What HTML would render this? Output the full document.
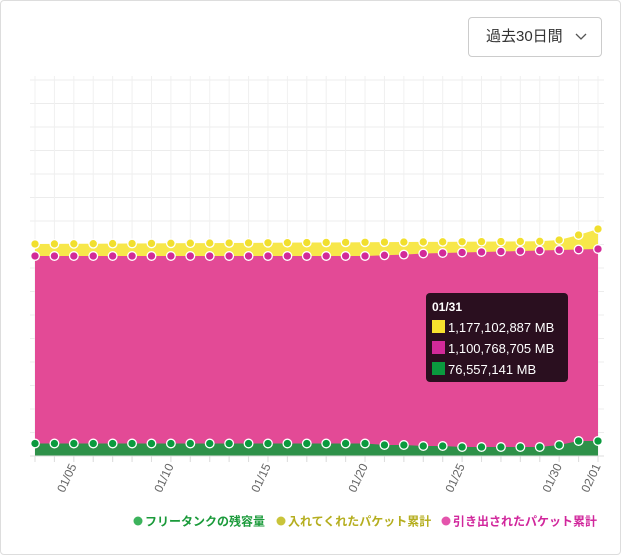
<!DOCTYPE html>
<html><head><meta charset="utf-8"><style>
body{margin:0;background:#fff;font-family:"Liberation Sans","Noto Sans CJK JP",sans-serif}
.card{position:absolute;left:0;top:0;width:619px;height:553px;border:1px solid #ddd;border-radius:4px}
.btn{position:absolute;left:468px;top:17px;width:134px;height:40px;border:1px solid #ccc;border-radius:4px;box-sizing:border-box;font-size:15px;color:#333;line-height:38px;padding-left:17px}
.btn svg{position:absolute;right:14px;top:15px}
</style></head><body>
<div class="card"></div>
<div class="btn">過去30日間<svg width="12" height="8"><path d="M1 1 L6 6 L11 1" stroke="#555" fill="none" stroke-width="1.3"/></svg></div>
<svg id="s" width="621" height="555" style="position:absolute;left:0;top:0"></svg>
<script>
var s=document.getElementById('s'),h='';
var x0=35,dx=(598-35)/29,N=30;
for(var i=0;i<=16;i++){var y=80+i*23.5;h+='<line x1="30" x2="604" y1="'+y+'" y2="'+y+'" stroke="#ececec"/>';}
for(var i=0;i<N;i++){var x=x0+i*dx;h+='<line x1="'+x+'" x2="'+x+'" y1="76" y2="462" stroke="#f0f0f0"/>';}
var Y=[],M=[],G=[];
for(var i=0;i<N;i++){
 var g=443.5; if(i>=18)g=445; if(i>=20)g=446; if(i>=22)g=447; if(i==27)g=445; if(i>=28)g=441;
 G.push(g);
 var m=256; if(i>=17)m=256-(i-17)*0.7; if(i>=20)m=253.5-(i-20)*0.5;
 M.push(m);
 var y=244-(i/29)*3; if(i==28)y=235; if(i==29)y=229; if(i==27)y=240;
 Y.push(y);
}
function pts(a){return a.map(function(v,i){return (x0+i*dx)+','+v}).join(' ');}
var B=456;
h+='<polygon points="'+x0+','+B+' '+pts(Y)+' 598,'+B+'" fill="#f7e74a"/>';
h+='<polygon points="'+x0+','+B+' '+pts(M)+' 598,'+B+'" fill="#e34a96"/>';
h+='<polygon points="'+x0+','+B+' '+pts(G)+' 598,'+B+'" fill="#2e9149"/>';
h+='<line x1="30" x2="604" y1="456" y2="456" stroke="#ddd"/>';
for(var i=0;i<N;i++){var x=x0+i*dx;
 h+='<circle cx="'+x+'" cy="'+Y[i]+'" r="4.3" fill="#f1df2e" stroke="#fff" stroke-width="1.3"/>';
 h+='<circle cx="'+x+'" cy="'+M[i]+'" r="4.3" fill="#d22a99" stroke="#fff" stroke-width="1.3"/>';
 h+='<circle cx="'+x+'" cy="'+G[i]+'" r="4.3" fill="#0a9a3e" stroke="#fff" stroke-width="1.3"/>';
 h+='<line x1="'+x+'" x2="'+x+'" y1="456" y2="462" stroke="#ddd"/>';
}
var L=[[2,'01/05'],[7,'01/10'],[12,'01/15'],[17,'01/20'],[22,'01/25'],[27,'01/30'],[29,'02/01']];
L.forEach(function(l){var x=x0+l[0]*dx+3;h+='<text x="'+x+'" y="466" transform="rotate(-65 '+x+' 466)" text-anchor="end" font-size="12" fill="#666" font-family="Liberation Sans,sans-serif">'+l[1]+'</text>';});
h+='<rect x="426" y="293" width="142" height="89" rx="4" fill="#2a0f1f"/>';
h+='<text x="432" y="311" font-size="12" font-weight="bold" fill="#fff">01/31</text>';
var T=[['#f7e12e','1,177,102,887 MB'],['#d22a99','1,100,768,705 MB'],['#0a9a3e','76,557,141 MB']];
T.forEach(function(t,i){var y=320+i*21;h+='<rect x="432" y="'+y+'" width="13" height="13" fill="'+t[0]+'"/><text x="448" y="'+(y+12)+'" font-size="13" fill="#fff">'+t[1]+'</text>';});
var G2=[[138,'#3cb35c','#1a9a3a','フリータンクの残容量'],[281,'#c9c43a','#b5ae1f','入れてくれたパケット累計'],[446,'#e454ac','#d1279c','引き出されたパケット累計']];
G2.forEach(function(g){h+='<circle cx="'+g[0]+'" cy="521" r="4.5" fill="'+g[1]+'"/><text x="'+(g[0]+7)+'" y="525.5" font-size="12" font-weight="bold" fill="'+g[2]+'" font-family="Liberation Sans,Noto Sans CJK JP,sans-serif">'+g[3]+'</text>';});
s.innerHTML=h;
</script>
</body></html>
